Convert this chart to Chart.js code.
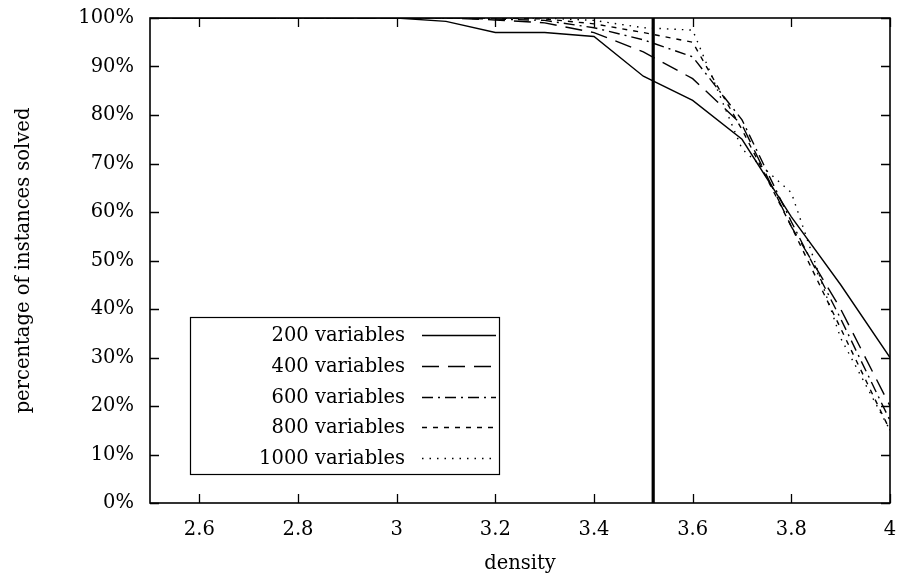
<!DOCTYPE html>
<html>
<head>
<meta charset="utf-8">
<script src="https://cdn.jsdelivr.net/npm/chart.js@4.4.0/dist/chart.umd.min.js"></script>
<style>
  html, body { margin: 0; padding: 0; background: #fff; }
  #wrap { width: 902px; height: 576px; }
</style>
</head>
<body>
<div id="wrap"><canvas id="canvas" width="902" height="576"></canvas></div>
<script>
// density values on the x axis
const DENSITY = [2.5, 2.6, 2.7, 2.8, 2.9, 3.0, 3.1, 3.2, 3.3, 3.4, 3.5, 3.6, 3.7, 3.8, 3.9, 4.0];

// percentage of instances solved, one list per problem size
const V200  = [100, 100, 100, 100, 100, 100, 99.3, 97, 97, 96.2, 88, 83, 75, 59, 45, 30];
const V400  = [100, 100, 100, 100, 100, 100, 100, 99.6, 99, 97, 93, 87.5, 78, 57, 40, 20];
const V600  = [100, 100, 100, 100, 100, 100, 100, 99.8, 99.5, 98, 95.5, 92, 79, 58, 38, 17];
const V800  = [100, 100, 100, 100, 100, 100, 100, 100, 99.8, 98.8, 97, 95, 77, 57, 36, 15];
const V1000 = [100, 100, 100, 100, 100, 100, 100, 100, 100, 99.5, 98, 97.5, 73, 64, 34, 15];

const SERIES_NAMES = ["200 variables", "400 variables", "600 variables", "800 variables", "1000 variables"];
const DASHES = [[], [17, 9], [11, 5, 2, 5], [5, 6], [1.5, 6]];

// threshold marked with the thick vertical line
const THRESHOLD = 3.52;

const X_TICKS = [2.6, 2.8, 3.0, 3.2, 3.4, 3.6, 3.8, 4.0];
const Y_TICKS = [0, 10, 20, 30, 40, 50, 60, 70, 80, 90, 100];

const FONT = "'DejaVu Serif', 'Liberation Serif', serif";
const FSIZE = 19.5;

function toPoints(ys) {
    return DENSITY.map(function (x, i) { return { x: x, y: ys[i] }; });
}

var seriesData = [V200, V400, V600, V800, V1000];
var datasets = seriesData.map(function (ys, i) {
    return {
        label: SERIES_NAMES[i],
        data: toPoints(ys),
        borderColor: '#000',
        borderWidth: 1.4,
        borderDash: DASHES[i],
        pointRadius: 0,
        tension: 0,
        fill: false
    };
});
datasets.push({
    label: 'threshold',
    data: [{ x: THRESHOLD, y: 0 }, { x: THRESHOLD, y: 100 }],
    borderColor: '#000',
    borderWidth: 3.2,
    pointRadius: 0,
    fill: false
});

// inward ticks on all four sides + frame
const frameTicks = {
    id: 'frameTicks',
    afterDatasetsDraw: function (chart) {
        var ctx = chart.ctx, a = chart.chartArea;
        var xs = chart.scales.x, ys = chart.scales.y;
        var len = 9;
        ctx.save();
        ctx.strokeStyle = '#000';
        ctx.lineWidth = 1.3;
        ctx.beginPath();
        X_TICKS.forEach(function (v) {
            var px = Math.round(xs.getPixelForValue(v)) + 0.5;
            ctx.moveTo(px, a.bottom); ctx.lineTo(px, a.bottom - len);
            ctx.moveTo(px, a.top); ctx.lineTo(px, a.top + len);
        });
        Y_TICKS.forEach(function (v) {
            var py = Math.round(ys.getPixelForValue(v)) + 0.5;
            ctx.moveTo(a.left, py); ctx.lineTo(a.left + len, py);
            ctx.moveTo(a.right, py); ctx.lineTo(a.right - len, py);
        });
        ctx.stroke();
        ctx.lineWidth = 1.6;
        ctx.strokeRect(a.left, a.top, a.right - a.left, a.bottom - a.top);
        ctx.restore();
    }
};

// gnuplot style key: text right aligned, sample line to the right
const keyBox = {
    id: 'keyBox',
    afterDraw: function (chart) {
        var ctx = chart.ctx;
        var left = 190, top = 317, right = 499, bottom = 474;
        var rowH = 30.8, firstY = 335;
        ctx.save();
        ctx.fillStyle = '#fff';
        ctx.fillRect(left, top, right - left, bottom - top);
        ctx.strokeStyle = '#000';
        ctx.lineWidth = 1.2;
        ctx.strokeRect(left + 0.5, top + 0.5, right - left, bottom - top);
        ctx.font = FSIZE + "px " + FONT;
        ctx.textAlign = 'right';
        ctx.textBaseline = 'middle';
        ctx.fillStyle = '#000';
        SERIES_NAMES.forEach(function (name, i) {
            var y = firstY + i * rowH;
            ctx.fillText(name, 405, y + 1);
            ctx.beginPath();
            ctx.setLineDash(DASHES[i]);
            ctx.lineWidth = 1.4;
            ctx.moveTo(422, Math.round(y) + 0.5);
            ctx.lineTo(496, Math.round(y) + 0.5);
            ctx.stroke();
        });
        ctx.restore();
    }
};

var ctx = document.getElementById('canvas').getContext('2d');
var chart = new Chart(ctx, {
    type: 'line',
    data: { datasets: datasets },
    options: {
        responsive: false,
        animation: false,
        layout: { padding: { left: 0, right: 12, top: 18, bottom: 0 } },
        plugins: { legend: { display: false }, tooltip: { enabled: false } },
        scales: {
            x: {
                type: 'linear',
                min: 2.5,
                max: 4,
                afterBuildTicks: function (s) { s.ticks = X_TICKS.map(function (v) { return { value: v }; }); },
                afterFit: function (s) { s.height = 73; s.paddingLeft = 0; s.paddingRight = 0; },
                grid: { display: false, drawTicks: false },
                border: { display: false },
                ticks: {
                    color: '#000',
                    padding: 15,
                    maxRotation: 0,
                    font: { family: FONT, size: FSIZE },
                    callback: function (v) { return String(+v.toFixed(1)); }
                },
                title: {
                    display: true,
                    text: 'density',
                    color: '#000',
                    padding: { top: 2, bottom: 0 },
                    font: { family: FONT, size: FSIZE }
                }
            },
            y: {
                min: 0,
                max: 100,
                afterBuildTicks: function (s) { s.ticks = Y_TICKS.map(function (v) { return { value: v }; }); },
                afterFit: function (s) { s.width = 150; s.paddingTop = 0; s.paddingBottom = 0; },
                grid: { display: false, drawTicks: false },
                border: { display: false },
                ticks: {
                    color: '#000',
                    padding: 16,
                    font: { family: FONT, size: FSIZE },
                    callback: function (v) { return v + '%'; }
                },
                title: {
                    display: true,
                    text: 'percentage of instances solved',
                    color: '#000',
                    padding: { top: 12, bottom: 0 },
                    font: { family: FONT, size: FSIZE }
                }
            }
        }
    },
    plugins: [frameTicks, keyBox]
});
</script>
</body>
</html>
